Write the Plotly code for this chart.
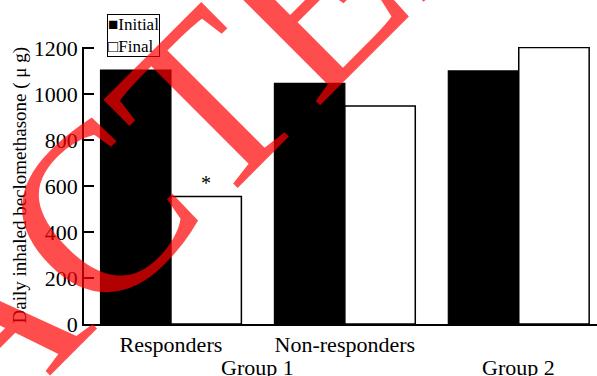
import plotly.graph_objects as go

# Daily inhaled beclomethasone dose (µg) by patient group
categories = ["Responders", "Non-responders", "Group 2"]
tick_labels = ["Responders", "Non-responders", ""]
initial_dose = [1105, 1047, 1101]
final_dose = [555, 948, 1203]
y_ticks = [0, 200, 400, 600, 800, 1000, 1200]

SERIF = "Liberation Serif"

fig = go.Figure()
fig.add_trace(go.Bar(
    name="Initial", x=categories, y=initial_dose,
    marker=dict(color="black", line=dict(color="black", width=1.2)),
))
fig.add_trace(go.Bar(
    name="Final", x=categories, y=final_dose,
    marker=dict(color="white", line=dict(color="black", width=1.5)),
))

fig.update_layout(
    width=597, height=376,
    margin=dict(l=84, r=0, t=47, b=52),
    paper_bgcolor="white", plot_bgcolor="white",
    barmode="group", bargap=0.19, bargroupgap=0,
    showlegend=False,
    font=dict(family=SERIF, color="black"),
    xaxis=dict(
        range=[-0.5, 2.45],
        tickmode="array", tickvals=[0, 1, 2], ticktext=tick_labels,
        showline=True, linecolor="black", linewidth=1.5,
        ticks="", showgrid=False, zeroline=False,
        tickfont=dict(family=SERIF, size=22),
    ),
    yaxis=dict(
        range=[0, 1205],
        tickmode="array", tickvals=y_ticks,
        showline=True, linecolor="black", linewidth=1.5,
        ticks="inside", ticklen=10, tickwidth=1.5, tickcolor="black",
        showgrid=False, zeroline=False,
        tickfont=dict(family=SERIF, size=22),
    ),
)

annotations = [
    # y-axis title
    dict(text="Daily inhaled beclomethasone ( \u03bc g)", textangle=-90,
         xref="paper", yref="paper", x=(19 - 84) / 513, y=0.5,
         xanchor="center", yanchor="middle", showarrow=False,
         font=dict(family=SERIF, size=19)),
    # group labels
    dict(text="Group 1", xref="x", yref="paper", x=0.5, y=(324 - 353) / 277,
         xanchor="center", yanchor="top", showarrow=False,
         font=dict(family=SERIF, size=22)),
    dict(text="Group 2", xref="x", yref="paper", x=2, y=(324 - 353) / 277,
         xanchor="center", yanchor="top", showarrow=False,
         font=dict(family=SERIF, size=22)),
    # significance marker on Responders / Final
    dict(text="*", xref="x", yref="y", x=0.2025, y=final_dose[0],
         xanchor="center", yanchor="bottom", yshift=0, showarrow=False,
         font=dict(family=SERIF, size=20)),
    # legend box
    dict(text="\u25a0Initial<br>\u25a1Final", align="left",
         xref="paper", yref="paper", x=(107 - 84) / 513, y=(324 - 14) / 277,
         xanchor="left", yanchor="top", showarrow=False,
         bordercolor="black", borderwidth=1, borderpad=0, bgcolor="white",
         font=dict(family=SERIF, size=17)),
    # stamp across the figure
    dict(text="RETRACTED", textangle=-45,
         xref="paper", yref="paper", x=(-16 - 84) / 513, y=(324 - 327) / 277,
         xanchor="center", yanchor="middle", showarrow=False,
         font=dict(family=SERIF, size=240, color="rgba(255,0,0,0.7)")),
]
fig.update_layout(annotations=annotations)

fig.write_html("out.html")
